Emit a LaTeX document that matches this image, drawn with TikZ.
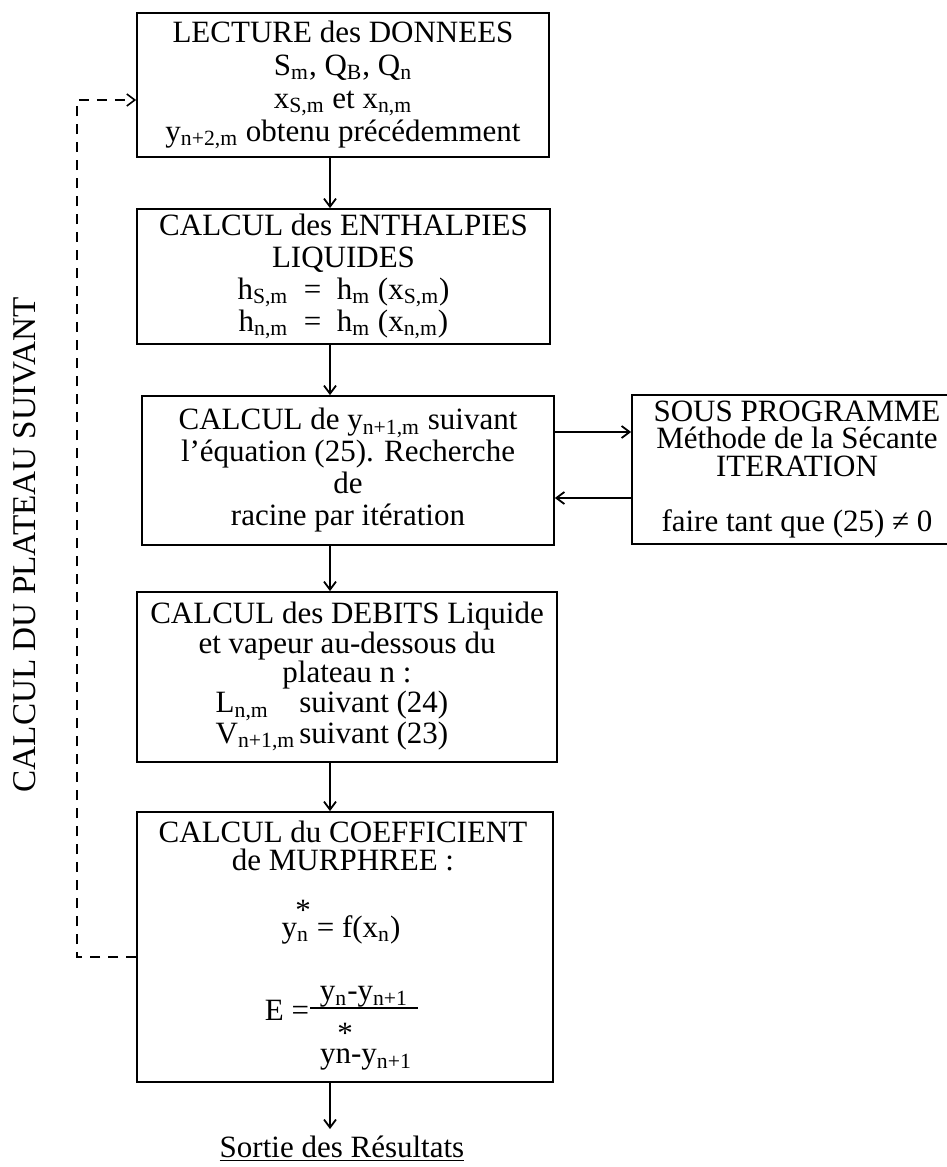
\documentclass[tikz,border=0pt]{standalone}
\usepackage{fontspec}
\setmainfont{Liberation Serif}
\usetikzlibrary{arrows.meta}
\begin{document}
\begin{tikzpicture}[x=0.5pt,y=-0.5pt,
  box/.style={draw,line width=0.9pt,inner sep=0pt,align=center},
  txt/.style={inner sep=0pt,align=center},
  fnt/.style={font=\fontsize{15.5}{#1}\selectfont},
  arr/.style={line width=0.9pt,-{Straight Barb[length=4pt,width=6pt]}},
  dsh/.style={line width=0.8pt,dash pattern=on 5pt off 4pt,-{Straight Barb[length=4pt,width=6pt]}}]
\useasboundingbox (0,0) rectangle (947,1167);

% main boxes
\node[box,fnt=16.5,minimum width=206pt,minimum height=72pt] (B1) at (343,85)
  {LECTURE des DONNEES\\
   S\textsubscript{m}, Q\textsubscript{B}, Q\textsubscript{n}\\
   x\textsubscript{S,m} et x\textsubscript{n,m}\\
   y\textsubscript{n+2,m} obtenu précédemment};

\node[box,fnt=16,minimum width=206.5pt,minimum height=67.5pt] (B2) at (343.5,276.5)
  {CALCUL des ENTHALPIES\\
   LIQUIDES\\
   h\textsubscript{S,m}\ \ =\ \ h\textsubscript{m} (x\textsubscript{S,m})\\
   h\textsubscript{n,m}\ \ =\ \ h\textsubscript{m} (x\textsubscript{n,m})};

\node[box,fnt=16,minimum width=206pt,minimum height=74.5pt] (B3) at (348,470.5)
  {CALCUL de y\textsubscript{n+1,m} suivant\\
   l'équation (25). Recherche\\
   de\\
   racine par itération};

\node[box,fnt=13.6,minimum width=165pt,minimum height=74.5pt] (S) at (797,469.5)
  {SOUS PROGRAMME\\
   Méthode de la Sécante\\
   ITERATION\\[14pt]
   faire tant que (25) ≠ 0};

\node[box,fnt=14.75,minimum width=210pt,minimum height=85pt] (B4) at (347,677)
  {CALCUL des DEBITS Liquide\\
   et vapeur au-dessous du\\
   plateau n :\\
   \begin{tabular}{@{}l@{\hspace{2pt}}l@{}}
   L\textsubscript{n,m} & suivant (24)\\
   V\textsubscript{n+1,m} & suivant (23)
   \end{tabular}\kern15pt};

\node[box,minimum width=208pt,minimum height=135pt] (B5) at (345,947) {};

% contents of box 5
\node[txt,fnt=14] (T5) at (343,846) {CALCUL du COEFFICIENT\\de MURPHREE :};
\node[txt,fnt=16] (Q1) at (341,930) {y\textsubscript{n} = f(x\textsubscript{n})};
\node[txt,fnt=16] (st1) at (303,910) {*};
\node[txt,fnt=16] (QE) at (287,1010) {E =};
\node[txt,fnt=16] (num) at (364,997) {y\textsubscript{n}-y\textsubscript{n+1}};
\draw[line width=0.9pt] (310,1008) -- (418,1008);
\node[txt,fnt=16] (st2) at (345,1033) {*};
\node[txt,fnt=16] (den) at (366,1060) {yn-y\textsubscript{n+1}};

% output
\node[txt,fnt=16,inner sep=3pt,anchor=base] (So) at (342,1157) {\underline{Sortie des Résultats}};

% side label
\node[txt,font=\fontsize{16.6}{18}\selectfont,rotate=90] (lab) at (25,545) {CALCUL DU PLATEAU SUIVANT};

% helper coordinates
\coordinate (axis) at (330,0);
\coordinate (r1) at (0,432);
\coordinate (r2) at (0,498);
\coordinate (dlo) at (77,957);
\coordinate (dhi) at (77,100);

% connectors
\draw[arr] (B1.south -| axis) -- (B2.north -| axis);
\draw[arr] (B2.south -| axis) -- (B3.north -| axis);
\draw[arr] (B3.south -| axis) -- (B4.north -| axis);
\draw[arr] (B4.south -| axis) -- (B5.north -| axis);
\draw[arr] (B5.south -| axis) -- (So.north -| axis);
\draw[arr] (B3.east |- r1) -- (S.west |- r1);
\draw[arr] (S.west |- r2) -- (B3.east |- r2);
\draw[dsh] (B5.west |- dlo) -- (dlo) -- (dhi) -- (B1.west |- dhi);
\end{tikzpicture}
\end{document}
